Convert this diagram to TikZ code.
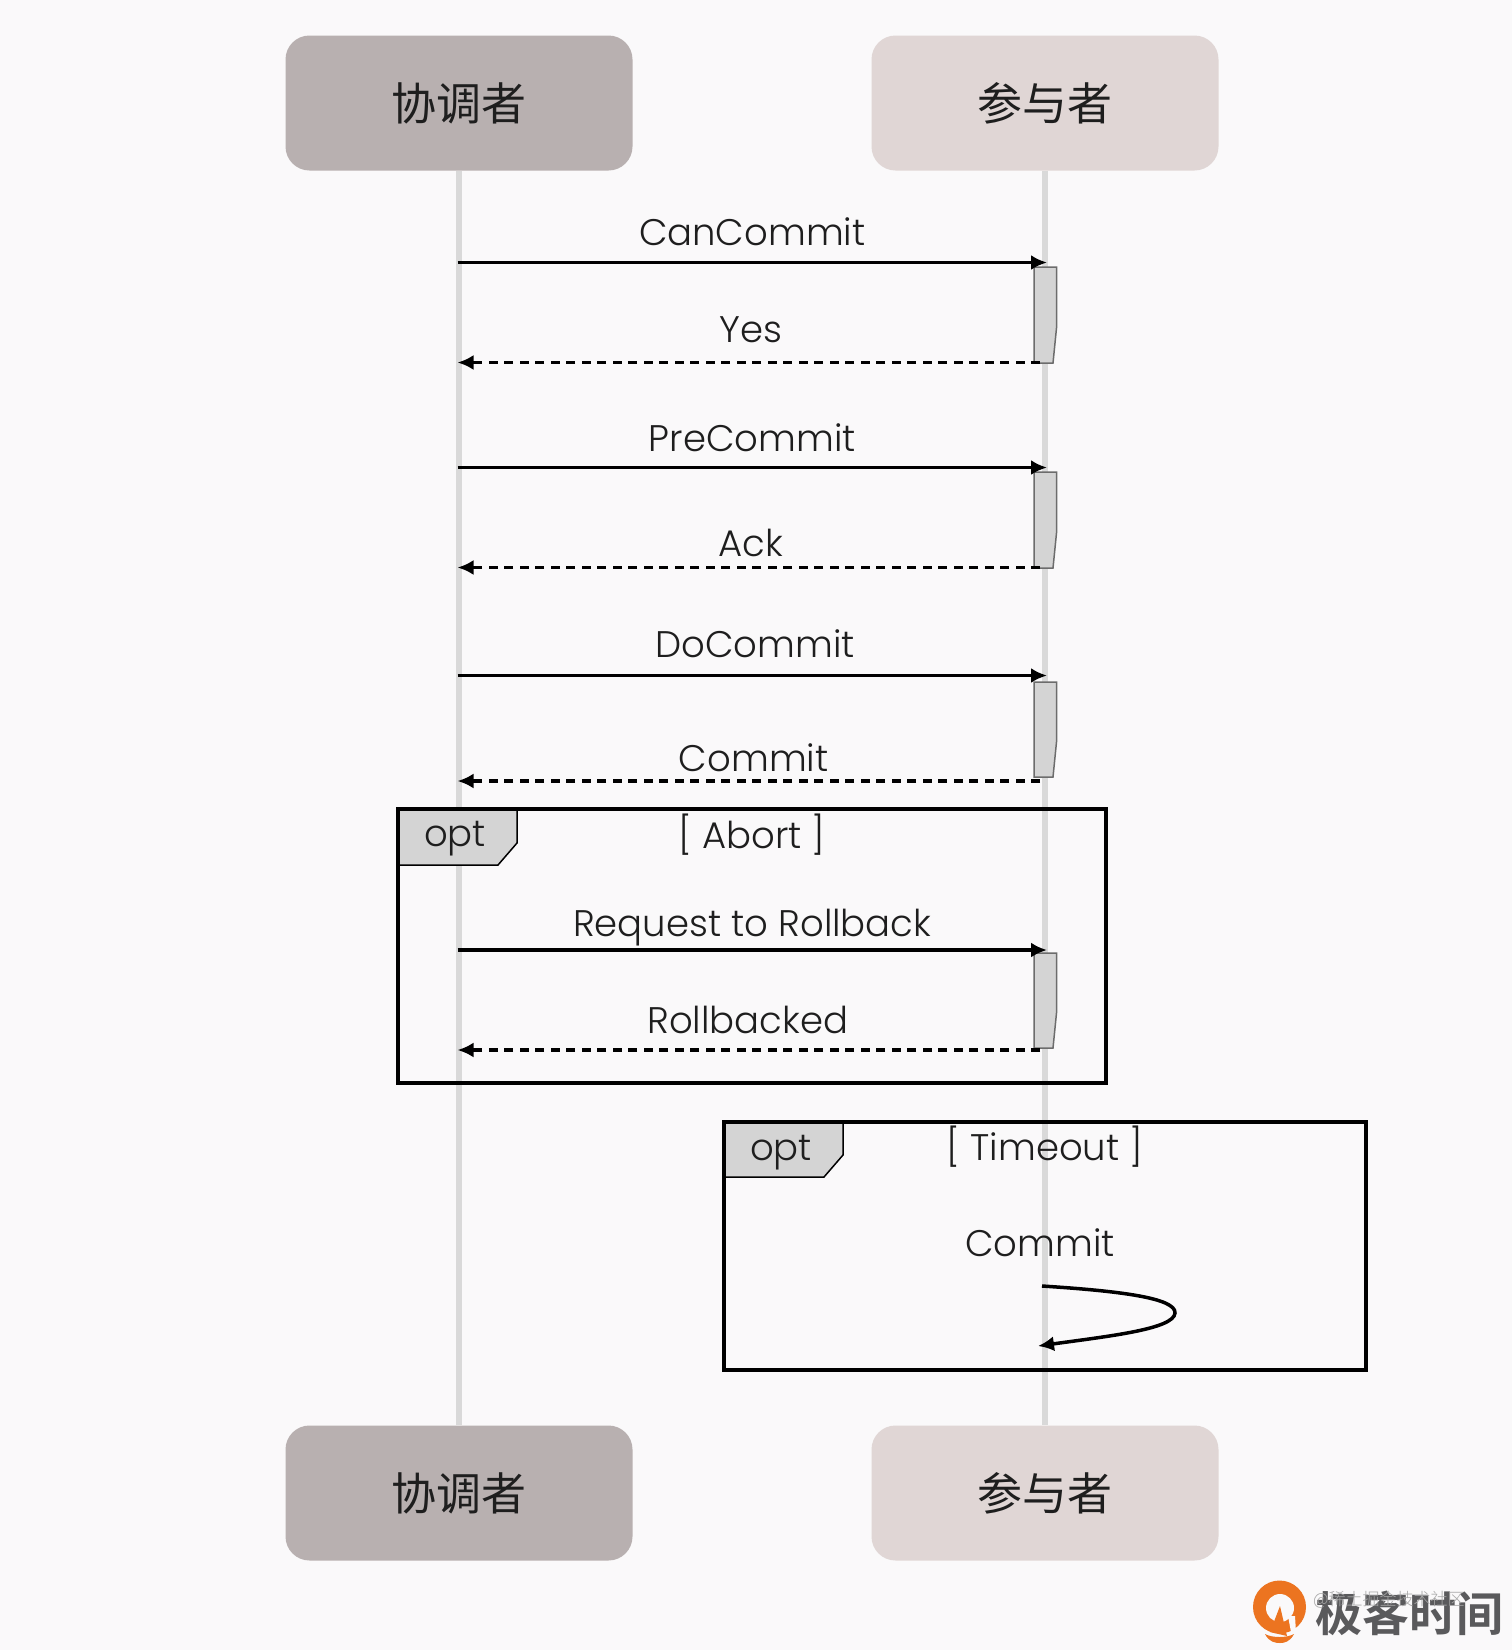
\documentclass[tikz,border=0pt]{standalone}
\usepackage{fontspec}
\setmainfont{Poppins Light}
\newfontfamily\cjk{Noto Sans CJK SC}
\newfontfamily\cjkb{Noto Sans CJK SC Bold}
\newfontfamily\cjkl{Noto Sans CJK SC Light}
\usetikzlibrary{arrows.meta}
\definecolor{pagebg}{HTML}{FAF9FA}
\definecolor{coordcol}{HTML}{B8B0B0}
\definecolor{partcol}{HTML}{E0D6D5}
\definecolor{lifecol}{HTML}{D9D9D9}
\definecolor{barcol}{HTML}{D4D4D4}
\definecolor{inkcol}{HTML}{1E1E1E}
\definecolor{logoor}{HTML}{EC7420}
\definecolor{logogr}{HTML}{5A5A5C}
\tikzset{
  actor/.style={rounded corners=24pt, minimum width=347pt, minimum height=135pt, text=inkcol, font=\cjk\fontsize{45}{50}\selectfont},
  lifeline/.style={draw=lifecol, line width=6pt},
  msg/.style={line width=3.5pt, -{Latex[length=16pt,width=15pt]}},
  reply/.style={msg, dash pattern=on 9pt off 6.5pt},
  lab/.style={anchor=base, inner sep=0pt, text=inkcol, font=\fontsize{37}{44}\selectfont},
  bar/.style={draw=gray!85!black, line width=1.5pt, fill=barcol},
  frame/.style={draw=black, line width=3.5pt},
  tab/.style={draw=black, line width=1.5pt, fill=barcol}
}
\begin{document}
\begin{tikzpicture}[x=1pt,y=-1pt]
  \fill[pagebg] (0,0) rectangle (1512,1650);
  \useasboundingbox (0,0) rectangle (1512,1650);
  % actors
  \node[actor, fill=coordcol] (coord) at (459,103) {协调者};
  \node[actor, fill=partcol, right of=coord, node distance=586pt] (part) {参与者};
  \node[actor, fill=coordcol, below of=coord, node distance=1390pt] (coordb) {协调者};
  \node[actor, fill=partcol, below of=part, node distance=1390pt] (partb) {参与者};
  \draw[lifeline] (coord) -- (coordb);
  \draw[lifeline] (part) -- (partb);
  % activation bars
  \foreach \t/\b in {267/363, 472/568, 682/777, 953/1048} {
    \draw[bar] (1034,\t) -- (1056.5,\t) -- (1056.5,\b-35) -- (1053,\b) -- (1034,\b) -- cycle;
  }
  % message ends
  \foreach \i/\y in {1/262.5, 2/362.5, 3/467.5, 4/567.5, 5/675.5, 6/781, 7/950, 8/1050} {
    \coordinate (l\i) at (457.5,\y);
    \coordinate (r\i) at (1047,\y);
    \coordinate (s\i) at (1040,\y);
  }
  \draw[msg] (l1) -- node[lab, yshift=17pt] {CanCommit} (r1);
  \draw[reply] (s2) -- node[lab, yshift=20pt, xshift=2pt] {Yes} (l2);
  \draw[msg] (l3) -- node[lab, yshift=16pt] {PreCommit} (r3);
  \draw[reply] (s4) -- node[lab, yshift=11pt, xshift=2pt] {Ack} (l4);
  \draw[msg] (l5) -- node[lab, yshift=18pt, xshift=3pt] {DoCommit} (r5);
  \draw[reply] (s6) -- node[lab, yshift=10pt, xshift=5pt] {Commit} (l6);
  \draw[msg] (l7) -- node[lab, yshift=14pt] {Request to Rollback} (r7);
  \draw[reply] (s8) -- node[lab, yshift=17pt, xshift=-1pt] {Rollbacked} (l8);
  % abort frame
  \draw[tab] (398,809) -- (517,809) -- (517,843) -- (498,865) -- (398,865) -- cycle;
  \draw[frame] (398,809) rectangle (1106,1083);
  \node[lab] (abortopt) at (455,846) {opt};
  \node[lab] (abort) at (752,848) {[ Abort ]};
  % timeout frame
  \draw[tab] (724,1122) -- (843,1122) -- (843,1155) -- (824,1177) -- (724,1177) -- cycle;
  \draw[frame] (724,1122) rectangle (1366,1370);
  \node[lab] (timeoutopt) at (781,1160) {opt};
  \node[lab] (timeout) at (1045,1160) {[ Timeout ]};
  \node[lab] (selflab) at (1040,1256) {Commit};
  % self message
  \coordinate (selfa) at (1042,1286);
  \coordinate (selfb) at (1038,1346);
  \draw[msg] (selfa) .. controls (1120,1291) and (1176,1298) .. (1175,1313) .. controls (1174,1329) and (1110,1336) .. (selfb);
  % logo
  \fill[logoor] (1279.5,1607) circle (26.5);
  \fill[pagebg] (1280,1608) circle (14);
  \fill[logoor] (1280,1606) -- (1270,1632) -- (1287,1636) -- cycle;
  \fill[pagebg] (1288,1616) -- (1295,1616) -- (1296,1632) -- (1291,1632) -- cycle;
  \fill[logoor] (1265,1634) .. controls (1272,1638) and (1287,1638) .. (1294,1634) .. controls (1290,1642) and (1284,1643) .. (1280,1643) .. controls (1275,1643) and (1269,1642) .. (1265,1634) -- cycle;
  \node[anchor=west, inner sep=0pt, text=logogr, font=\cjkb\fontsize{47}{50}\selectfont] (logotext) at (1315,1613) {极客时间};
  \node[anchor=west, inner sep=0pt, text=gray!70, font=\cjkl\fontsize{17}{20}\selectfont] (mark) at (1313,1600) {@稀土掘金技术社区};
\end{tikzpicture}
\end{document}
